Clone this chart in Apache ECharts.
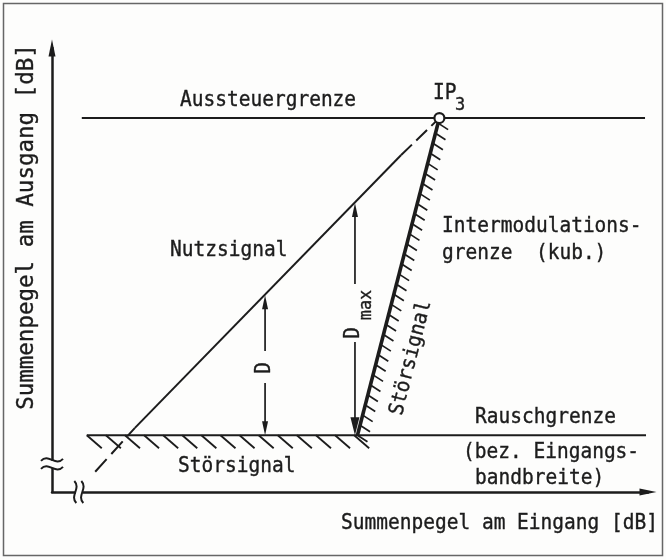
<!DOCTYPE html>
<html><head><meta charset="utf-8">
<script src="https://cdn.jsdelivr.net/npm/echarts@6/dist/echarts.min.js"></script>
<style>html,body{margin:0;padding:0;background:#fdfdfc}#c{width:666px;height:560px}</style>
</head><body><div id="c"></div>
<script>
// ---- schematic level diagram data (input level x, output level y, arbitrary dB units) ----
const xRange = [0, 120];
const yRange = [0, 90];
const ip3 = [78.0, 75.8];
const aussteuergrenze = [[6.0, 75.8], [119.4, 75.8]];
const rauschgrenze = [[7.0, 11.5], [119.6, 11.5]];
const rauschHatch = [[7.0, 11.5], [61.2, 11.5]];
const nutzLow = [[8.7, 4.1], [16.7, 13.0]];
const nutzMid = [[16.7, 13.0], [70.3, 68.3]];
const nutzHigh = [[70.3, 68.3], [78.0, 75.8]];
const intermod = [[61.5, 11.5], [78.0, 75.8]];
const dArrow = [[42.9, 11.5], [42.9, 39.9]];
const dMaxArrow = [[61.0, 11.5], [61.0, 58.6]];
const yBreak = [0, 5.7];
const xBreak = [5.4, 0];

const INK = '#1c1c1c';
const BG = '#fdfdfc';
const FONT = '"DejaVu Sans Mono", "Liberation Mono", monospace';

function hatchRender(spacing, dx, dy, lw) {
  return function (params, api) {
    const p0 = api.coord([api.value(0), api.value(1)]);
    const p1 = api.coord([api.value(2), api.value(3)]);
    const L = Math.hypot(p1[0] - p0[0], p1[1] - p0[1]);
    const ux = (p1[0] - p0[0]) / L, uy = (p1[1] - p0[1]) / L;
    const n = Math.floor(L / spacing);
    const children = [];
    for (let i = 0; i <= n; i++) {
      const sx = p0[0] + ux * i * spacing, sy = p0[1] + uy * i * spacing;
      children.push({type: 'line', shape: {x1: sx, y1: sy, x2: sx + dx, y2: sy + dy},
        style: {stroke: INK, lineWidth: lw}});
    }
    return {type: 'group', children};
  };
}

function arrowRender(topW, topL, botW, botL) {
  return function (params, api) {
    const p0 = api.coord([api.value(0), api.value(1)]); // bottom
    const p1 = api.coord([api.value(2), api.value(3)]); // top
    return {type: 'group', children: [
      {type: 'line', shape: {x1: p0[0], y1: p0[1] - botL + 2, x2: p1[0], y2: p1[1] + topL - 2},
        style: {stroke: INK, lineWidth: 1.7}},
      {type: 'polygon', shape: {points: [[p1[0], p1[1]], [p1[0] - topW / 2, p1[1] + topL], [p1[0] + topW / 2, p1[1] + topL]]},
        style: {fill: INK}},
      {type: 'polygon', shape: {points: [[p0[0], p0[1]], [p0[0] - botW / 2, p0[1] - botL], [p0[0] + botW / 2, p0[1] - botL]]},
        style: {fill: INK}}
    ]};
  };
}

function tilde(cx, cy, w, amp, vertical) {
  if (!vertical) {
    return {type: 'bezierCurve', shape: {x1: cx - w / 2, y1: cy + 1, cpx1: cx - w / 6, cpy1: cy - amp, cpx2: cx + w / 6, cpy2: cy + amp, x2: cx + w / 2, y2: cy - 1},
      style: {stroke: INK, lineWidth: 2, fill: null}};
  }
  return {type: 'bezierCurve', shape: {x1: cx - 1, y1: cy - w / 2, cpx1: cx + amp, cpy1: cy - w / 6, cpx2: cx - amp, cpy2: cy + w / 6, x2: cx + 1, y2: cy + w / 2},
    style: {stroke: INK, lineWidth: 2, fill: null}};
}

function breakRender(params, api) {
  const p = api.coord([api.value(0), api.value(1)]);
  const onY = params.dataIndex === 0;
  if (onY) {
    return {type: 'group', children: [
      {type: 'rect', shape: {x: p[0] - 3, y: p[1] - 3, width: 6, height: 7}, style: {fill: BG}},
      tilde(p[0], p[1] - 4, 22, 7, false),
      tilde(p[0], p[1] + 4, 22, 7, false)
    ]};
  }
  return {type: 'group', children: [
    {type: 'rect', shape: {x: p[0] - 3, y: p[1] - 3, width: 7, height: 6}, style: {fill: BG}},
    tilde(p[0] - 3.5, p[1], 22, 6, true),
    tilde(p[0] + 3.5, p[1], 22, 6, true)
  ]};
}

function lineSeries(data, width, type) {
  return {type: 'line', data, showSymbol: false, symbol: 'none', silent: true, z: 3,
    lineStyle: {color: INK, width, type: type || 'solid', cap: 'butt'}};
}

function txt(text, x, y, opts) {
  opts = opts || {};
  return {type: 'text', x, y, z: 100, rotation: opts.rot || 0, scaleY: 1.05,
    style: {text, font: (opts.size || 19.5) + 'px ' + FONT, fill: INK,
      stroke: INK, lineWidth: 0.35,
      align: opts.align || 'left', verticalAlign: 'middle'}};
}

const chart = echarts.init(document.getElementById('c'), null, {renderer: 'canvas'});
const axisCommon = {
  type: 'value', axisTick: {show: false}, axisLabel: {show: false}, splitLine: {show: false},
  axisLine: {show: true, symbol: ['none', 'triangle'], symbolSize: [7, 17], lineStyle: {color: INK, width: 2.5}}
};
chart.setOption({
  animation: false,
  backgroundColor: BG,
  grid: {left: 52, right: 18, top: 48, bottom: 68},
  xAxis: Object.assign({}, axisCommon, {min: xRange[0], max: xRange[1]}),
  yAxis: Object.assign({}, axisCommon, {min: yRange[0], max: yRange[1]}),
  series: [
    lineSeries(aussteuergrenze, 2),
    lineSeries(rauschgrenze, 2),
    lineSeries(nutzLow, 2, [17, 7]),
    lineSeries(nutzMid, 2),
    lineSeries(nutzHigh, 2, [15, 6]),
    lineSeries(intermod, 3.6),
    {type: 'custom', silent: true, z: 3, renderItem: hatchRender(19.1, 15, 13, 1.8),
      data: [rauschHatch[0].concat(rauschHatch[1])]},
    {type: 'custom', silent: true, z: 3, renderItem: hatchRender(10.4, 10, 6.5, 1.7),
      data: [intermod[0].concat(intermod[1])]},
    {type: 'custom', silent: true, z: 4, renderItem: arrowRender(6, 14, 6, 14),
      data: [dArrow[0].concat(dArrow[1])]},
    {type: 'custom', silent: true, z: 4, renderItem: arrowRender(6, 14, 9, 18),
      data: [dMaxArrow[0].concat(dMaxArrow[1])]},
    {type: 'custom', silent: true, z: 5, renderItem: breakRender, data: [yBreak, xBreak]},
    {type: 'scatter', data: [ip3], symbol: 'circle', symbolSize: 10, z: 10, silent: true,
      itemStyle: {color: '#ffffff', opacity: 1, borderColor: INK, borderWidth: 2.2}}
  ],
  graphic: [
    {type: 'rect', z: 99, shape: {x: 3.5, y: 3.5, width: 659, height: 552}, style: {fill: null, stroke: '#666', lineWidth: 1.5}},
    {type: 'rect', z: 99, shape: {x: 259, y: 351, width: 12, height: 32}, style: {fill: BG}},
    {type: 'rect', z: 99, shape: {x: 349, y: 284, width: 12, height: 58}, style: {fill: BG}},
    txt('Aussteuergrenze', 180, 101),
    txt('IP', 433, 94),
    txt('3', 455, 105, {size: 17}),
    txt('Nutzsignal', 170, 251),
    txt('Intermodulations-', 442, 227),
    txt('grenze  (kub.)', 442, 254),
    txt('Rauschgrenze', 475, 418),
    txt('(bez. Eingangs-', 463, 453),
    txt('bandbreite)', 475, 479),
    txt('Störsignal', 178, 467),
    txt('Summenpegel am Eingang [dB]', 658, 524, {align: 'right'}),
    txt('Summenpegel am Ausgang [dB]', 27, 227, {align: 'center', rot: Math.PI / 2, size: 22.5}),
    txt('Störsignal', 411, 358, {align: 'center', rot: 1.321}),
    txt('D', 265, 368, {align: 'center', rot: Math.PI / 2}),
    txt('D', 354, 333, {align: 'center', rot: Math.PI / 2}),
    txt('max', 366, 305, {align: 'center', rot: Math.PI / 2, size: 17})
  ]
});
</script>
</body></html>
